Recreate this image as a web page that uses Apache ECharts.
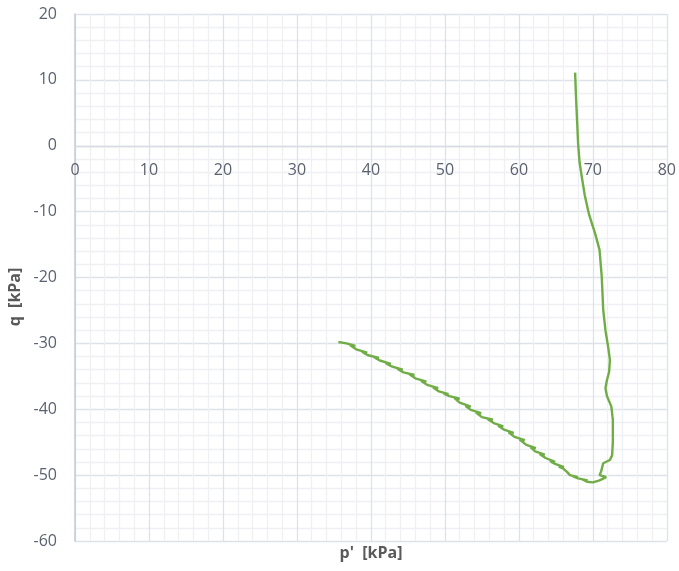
<!DOCTYPE html>
<html>
<head>
<meta charset="utf-8">
<script src="https://cdn.jsdelivr.net/npm/echarts@6/dist/echarts.min.js"></script>
<style>html,body{margin:0;padding:0;background:#fff;}#c{width:679px;height:571px;}</style>
</head>
<body>
<div id="c"></div>
<script>
// p' [kPa] values along the stress path
const pValues = [
  67.6, 67.7, 67.8, 67.9, 68.0, 68.2, 68.5, 68.9, 69.5, 70.3, 70.9, 71.2, 71.4, 71.7, 72.1, 72.3, 72.2, 71.9, 71.7, 71.9,
  72.5, 72.7, 72.7, 72.6, 72.3, 71.4, 71.1, 70.9, 71.8, 70.9, 70.0,
  69.2, 68.6, 69.3, 68.0, 67.3, 68.0, 66.9, 66.5, 66.0, 65.4, 66.1, 64.9, 64.2, 64.9, 63.6, 62.8, 63.5, 62.2, 61.6,
  62.3, 61.0, 60.1, 60.8, 59.4, 58.6, 59.3, 58.0, 57.2, 57.9, 56.6, 55.8, 56.5, 55.0, 54.2, 54.9, 53.5, 52.8, 53.5, 52.0,
  51.3, 52.0, 50.6, 49.8, 50.5, 49.2, 48.4, 49.1, 47.6, 46.8, 47.5, 46.0, 45.2, 45.9, 44.4, 43.6, 44.3, 42.8, 42.0, 42.7,
  41.2, 40.4, 41.1, 39.6, 38.8, 39.5, 38.0, 37.2, 37.9, 36.7, 35.6
];
// q [kPa] values along the stress path
const qValues = [
  11.1, 8.0, 5.4, 3.0, 0.4, -2.5, -4.7, -7.5, -10.5, -13.3, -15.8, -19.9, -24.9, -28.0, -30.8, -32.5, -34.3, -35.6, -36.8, -38.0,
  -39.6, -41.6, -45.0, -47.0, -47.7, -48.2, -49.5, -50.0, -50.3, -50.8, -51.1,
  -51.0, -50.7, -50.8, -50.5, -50.2, -50.3, -50.0, -49.5, -49.0, -48.7, -48.8, -48.3, -47.9, -48.0, -47.4, -46.8, -46.9, -46.4, -45.8,
  -45.9, -45.4, -44.6, -44.7, -44.2, -43.5, -43.6, -43.1, -42.5, -42.6, -42.1, -41.5, -41.6, -41.2, -40.5, -40.6, -40.1, -39.5, -39.6, -39.0,
  -38.3, -38.4, -38.0, -37.6, -37.7, -37.3, -36.7, -36.8, -36.3, -35.7, -35.8, -35.3, -34.7, -34.8, -34.4, -33.9, -34.0, -33.5, -33.0, -33.1,
  -32.6, -32.1, -32.2, -31.8, -31.3, -31.4, -30.9, -30.3, -30.4, -30.0, -29.8
];
const xTicks = { min: 0, max: 80, interval: 10 };
const yTicks = { min: -60, max: 20, interval: 10 };
const xTitle = "p'  [kPa]";
const yTitle = "q  [kPa]";

const pts = pValues.map((p, i) => [p, qValues[i]]);
const labelColor = '#5a6270';
const fontFam = '"Open Sans", sans-serif';

const gridTop = 14, gridBottom = 30, H = 571;
const plotH = H - gridTop - gridBottom;
// position of q = 0 inside the plot, derived from the axis range
const zeroFromBottom = plotH * (0 - yTicks.min) / (yTicks.max - yTicks.min);

const chart = echarts.init(document.getElementById('c'), null, { renderer: 'canvas' });
chart.setOption({
  animation: false,
  backgroundColor: '#ffffff',
  grid: { left: 75, right: 12, top: gridTop, bottom: gridBottom, containLabel: false },
  xAxis: {
    type: 'value', min: xTicks.min, max: xTicks.max, interval: xTicks.interval,
    position: 'bottom', offset: -zeroFromBottom,
    axisLine: { show: true, onZero: false, lineStyle: { color: '#d6dbe4', width: 1.3 } },
    axisTick: { show: false },
    axisLabel: { color: labelColor, fontSize: 16, fontFamily: fontFam, margin: 17 },
    splitLine: { show: true, lineStyle: { color: '#dde1e8', width: 1.3 } },
    minorTick: { show: false, splitNumber: 5 },
    minorSplitLine: { show: true, lineStyle: { color: '#eef0f4', width: 1.3 } }
  },
  yAxis: {
    type: 'value', min: yTicks.min, max: yTicks.max, interval: yTicks.interval,
    axisLine: { show: true, onZero: false, lineStyle: { color: '#c3cad6', width: 1.5 } },
    axisTick: { show: false },
    axisLabel: { color: labelColor, fontSize: 16, fontFamily: fontFam, margin: 18 },
    splitLine: { show: true, lineStyle: { color: '#dde1e8', width: 1.3 } },
    minorTick: { show: false, splitNumber: 5 },
    minorSplitLine: { show: true, lineStyle: { color: '#eef0f4', width: 1.3 } }
  },
  graphic: [
    { type: 'text', x: 371, y: 553,
      style: { text: xTitle, fill: '#595959', font: 'bold 16px ' + fontFam, align: 'center', verticalAlign: 'middle' } },
    { type: 'text', x: 15, y: 297, rotation: Math.PI / 2,
      style: { text: yTitle, fill: '#595959', font: 'bold 16px ' + fontFam, align: 'center', verticalAlign: 'middle' } }
  ],
  series: [{
    type: 'line', data: pts, showSymbol: false, symbol: 'none', smooth: false,
    lineStyle: { color: '#70ad47', width: 2.4 }
  }]
});
</script>
</body>
</html>
